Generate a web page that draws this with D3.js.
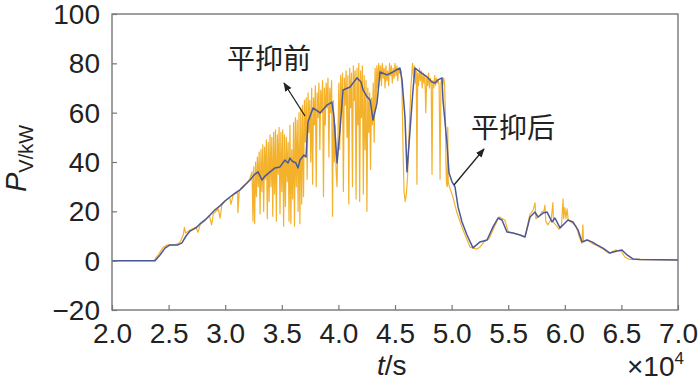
<!DOCTYPE html>
<html>
<head>
<meta charset="utf-8">
<script src="https://cdn.jsdelivr.net/npm/d3@7"></script>
<style>
  body { margin: 0; background: #fff; }
  text { font-family: "Liberation Sans", Arial, sans-serif; fill: #222; }
  .cn { font-family: "Noto Sans CJK SC", sans-serif; }
</style>
</head>
<body>
<div id="chart"></div>
<script>
// time is in units of 10^4 s, power in kW
const rawT = [2.000,2.370,2.410,2.450,2.490,2.560,2.600,2.630,2.640,2.650,2.690,2.740,2.760,2.780,2.820,2.860,2.880,2.895,2.940,2.955,2.970,3.000,3.040,3.050,3.070,3.110,3.112,3.125,3.160,3.190,3.215,
  3.237,3.245,3.252,3.260,3.268,3.276,3.284,3.292,3.300,3.308,3.316,3.324,3.332,3.340,3.348,3.356,3.364,3.372,3.380,3.388,3.396,3.404,3.412,3.420,3.428,3.436,3.444,3.452,3.460,3.468,3.476,3.484,3.492,3.500,
  3.508,3.516,3.524,3.532,3.540,3.548,3.556,3.564,3.572,3.580,3.588,3.596,3.604,3.612,3.620,3.628,3.636,3.644,3.652,3.660,3.668,3.676,3.684,3.692,3.700,
  3.708,3.716,3.724,3.732,3.740,3.748,3.756,3.764,3.772,3.780,3.788,3.796,3.804,3.812,3.820,3.828,3.836,3.844,3.852,3.860,3.868,3.876,3.884,3.892,3.900,3.908,3.916,3.924,3.932,3.940,3.948,3.956,3.964,3.972,3.980,3.988,3.996,
  4.004,4.012,4.020,4.028,4.036,4.044,4.052,4.060,4.068,4.076,4.084,4.092,4.100,4.108,4.116,4.124,4.132,4.140,4.148,4.156,4.164,4.172,4.180,4.188,4.196,4.204,4.212,4.220,4.228,4.236,4.244,4.252,4.260,4.268,4.276,4.284,4.292,4.300,4.308,4.316,4.324,
  4.332,4.340,4.348,4.356,4.364,4.372,4.380,4.388,4.396,4.404,4.412,4.420,4.428,4.436,4.444,4.452,4.460,4.468,4.476,4.484,4.492,4.500,4.508,4.516,4.524,4.532,4.540,
  4.552,4.562,4.571,4.580,4.590,4.600,4.610,4.622,4.640,4.655,
  4.665,4.672,4.680,4.688,4.694,4.700,4.708,4.716,4.724,4.732,4.740,4.748,4.756,4.764,4.772,4.780,4.788,4.796,4.804,4.812,4.820,4.827,4.834,4.842,4.850,4.858,4.866,4.874,4.882,4.890,4.898,4.906,4.914,4.922,4.930,4.938,
  4.945,4.950,4.955,4.962,4.966,4.970,4.980,4.990,
  5.012,5.048,5.101,5.163,5.224,5.250,5.290,5.330,5.380,5.420,5.450,5.470,5.500,5.560,5.620,5.650,5.690,5.720,5.737,5.745,5.780,5.800,5.815,5.825,5.832,5.850,5.880,5.895,5.900,5.920,5.950,5.970,5.985,5.990,6.000,6.010,6.020,6.030,6.060,6.100,6.130,6.150,6.160,6.165,6.200,6.240,6.290,6.340,6.390,6.450,6.500,6.530,6.570,7.000];

const rawP = [0,0,2.5,5.3,6.4,6.4,7.4,10.5,13.5,11.2,12.4,13.6,11.5,14.8,16.2,18.3,14.5,19.0,21.0,17.2,22.5,24.3,25.5,22.8,26.5,27.8,19.5,28.5,30.4,31.5,33.0,
  36,16,38,15,40,26,42,30,44,19,45,28,47,20,46,33,49,17,48,24,51,30,50,18,52,27,53,16,51,35,54,19,52,28,
  53,14,51,22,50,32,48,16,55,15,45,25,56,14,58,30,57,20,60,15,62,23,63,26,65,
  48,66,33,68,52,65,40,70,31,66,55,71,30,68,58,72,45,69,60,73,26,70,55,72,62,74,42,70,60,73,18,65,40,55,36,30,50,
  72,45,75,60,76,28,74,63,77,50,75,23,78,62,76,30,79,65,77,25,78,55,80,24,77,58,79,27,75,45,73,20,70,52,68,37,66,55,72,48,78,
  62,79,70,80,73,79,71,80,74,78,70,79,73,77,71,80,75,79,72,78,74,80,75,79,73,78,76,
  77,69,45,28,24,27,33,49,70,80,
  74,79,72,77,31,76,71,78,73,77,70,76,72,75,60,74,71,76,70,74,72,35,73,70,75,71,74,72,73,71,33,72,74,71,74,72,
  60,40,31,30,54,32,30,28.7,
  25.8,19.3,12.4,5.5,4.7,5.5,7.8,8.8,14.0,17.8,17.0,16.5,11.8,11.0,10.2,9.6,18.5,20.5,23.4,17.0,18.2,20.0,20.0,22.5,16.0,14.5,16.8,23.5,15.5,14.5,12.8,14.0,25.0,17.0,21.5,17.0,21.0,16.5,15.5,14.0,9.5,7.0,14.5,7.5,8.5,7.0,6.0,4.6,3.0,4.3,3.8,1.5,0.5,0.3];

const smoothT = [2.000,2.380,2.424,2.468,2.512,2.583,2.618,2.654,2.689,2.742,2.777,2.822,2.866,2.910,2.954,2.998,3.042,3.087,3.131,3.175,3.219,3.263,3.290,3.325,3.352,3.396,3.440,3.484,3.528,3.555,3.572,3.590,3.625,3.643,3.661,3.696,3.714,
  3.731,3.776,3.838,3.899,3.943,3.961,3.988,4.014,4.041,4.103,4.164,4.200,4.218,4.253,4.280,4.306,4.341,4.368,4.429,4.482,4.544,4.562,4.588,4.606,4.633,4.659,4.677,4.721,4.783,4.827,4.853,4.880,4.915,4.924,4.959,4.977,
  5.004,5.030,5.057,5.092,5.136,5.189,5.251,5.313,5.366,5.410,5.445,5.489,5.542,5.604,5.648,5.693,5.737,5.763,5.808,5.843,5.887,5.913,5.958,6.002,6.028,6.072,6.117,6.152,6.196,6.240,6.284,6.337,6.399,6.461,6.505,6.550,6.602,6.664,7.000];

const smoothP = [0,0,2.3,5.1,6.4,6.4,7.2,10.0,12.0,13.3,14.9,16.5,18.5,20.6,22.2,24.2,25.8,27.4,28.7,30.7,32.7,35.1,36.0,32.7,34.3,36.0,37.6,38.0,40.8,39.6,41.6,40.4,39.6,37.6,40.8,42.8,42.0,
  56.2,61.9,59.9,63.1,64.3,58.2,39.6,53.0,69.2,70.4,74.1,72.4,69.2,66.4,65.1,57.0,63.9,76.5,75.3,76.5,78.1,73.3,58.2,36.0,53.0,69.2,78.1,76.5,74.5,72.4,72.0,73.3,74.1,65.1,47.7,35.6,
  31.9,29.9,21.8,15.7,10.4,5.2,7.6,8.4,13.7,17.3,16.5,11.6,11.2,10.4,9.6,17.7,19.7,17.7,19.3,19.7,15.7,17.3,13.3,15.3,16.5,15.7,12.4,7.6,8.4,7.6,6.4,5.1,3.1,3.9,4.3,2.3,0.7,0.5,0.3];

const xTicks = [2.0,2.5,3.0,3.5,4.0,4.5,5.0,5.5,6.0,6.5,7.0];
const yTicks = [-20,0,20,40,60,80,100];

const margin = {top: 14, right: 22, bottom: 77, left: 112},
    width = 700 - margin.left - margin.right,
    height = 387 - margin.top - margin.bottom;

const root = d3.select("#chart").append("svg")
    .attr("width", 700).attr("height", 387);
const svg = root.append("g").attr("transform", `translate(${margin.left},${margin.top})`);

const x = d3.scaleLinear().domain([2, 7]).range([0, width]);
const y = d3.scaleLinear().domain([-20, 100]).range([height, 0]);

// lines
const line = d3.line().x(d => x(d[0])).y(d => y(d[1]));
svg.append("path").datum(rawT.map((t, i) => [t, rawP[i]]))
    .attr("d", line).attr("fill", "none")
    .attr("stroke", "#f4b22c").attr("stroke-width", 1.2).attr("stroke-linejoin", "round");
svg.append("path").datum(smoothT.map((t, i) => [t, smoothP[i]]))
    .attr("d", line).attr("fill", "none")
    .attr("stroke", "#4d5897").attr("stroke-width", 1.5).attr("stroke-linejoin", "round");

// axes, ticks pointing inward
const xAxis = d3.axisBottom(x).tickValues(xTicks).tickFormat(d3.format(".1f"))
    .tickSizeInner(-5).tickSizeOuter(0).tickPadding(13);
const yAxis = d3.axisLeft(y).tickValues(yTicks)
    .tickSizeInner(-5).tickSizeOuter(0).tickPadding(12);

const gx = svg.append("g").attr("transform", `translate(0,${height})`).call(xAxis);
const gy = svg.append("g").call(yAxis);
[gx, gy].forEach(g => {
  g.select(".domain").remove();
  g.selectAll(".tick line").attr("stroke", "#777").attr("stroke-width", 1.2);
  g.selectAll(".tick text").attr("font-size", 28).attr("fill", "#222")
    .attr("font-family", "Liberation Sans, Arial, sans-serif");
});
gy.selectAll(".tick text").attr("dy", "0.34em");

// frame
svg.append("rect").attr("width", width).attr("height", height)
    .attr("fill", "none").attr("stroke", "#777").attr("stroke-width", 1.4);

// axis titles
const xt = root.append("text").attr("x", 377).attr("y", 375).attr("font-size", 28);
xt.append("tspan").attr("font-style", "italic").text("t");
xt.append("tspan").text("/s");

const mult = root.append("text").attr("x", 627).attr("y", 376).attr("font-size", 28);
mult.append("tspan").text("×10");
mult.append("tspan").attr("font-size", 17).attr("dy", -12).text("4");

const yt = root.append("text").attr("transform", "translate(26,192) rotate(-90)").attr("font-size", 29);
yt.append("tspan").attr("font-style", "italic").text("P");
yt.append("tspan").attr("font-size", 20).attr("dy", 7).text("V/kW");

// annotations
const defs = root.append("defs");
defs.append("marker").attr("id", "arr").attr("viewBox", "0 0 10 10")
    .attr("refX", 9).attr("refY", 5).attr("markerWidth", 7).attr("markerHeight", 7)
    .attr("orient", "auto")
  .append("path").attr("d", "M0,1 L10,5 L0,9 Z").attr("fill", "#222");

root.append("text").attr("class", "cn").attr("x", 227).attr("y", 69).attr("font-size", 28).text("平抑前");
root.append("line").attr("x1", 305).attr("y1", 116).attr("x2", 284).attr("y2", 83)
    .attr("stroke", "#222").attr("stroke-width", 1.3).attr("marker-end", "url(#arr)");

root.append("text").attr("class", "cn").attr("x", 471).attr("y", 138).attr("font-size", 28).text("平抑后");
root.append("line").attr("x1", 454).attr("y1", 185).attr("x2", 484).attr("y2", 149)
    .attr("stroke", "#222").attr("stroke-width", 1.3).attr("marker-end", "url(#arr)");
</script>
</body>
</html>
